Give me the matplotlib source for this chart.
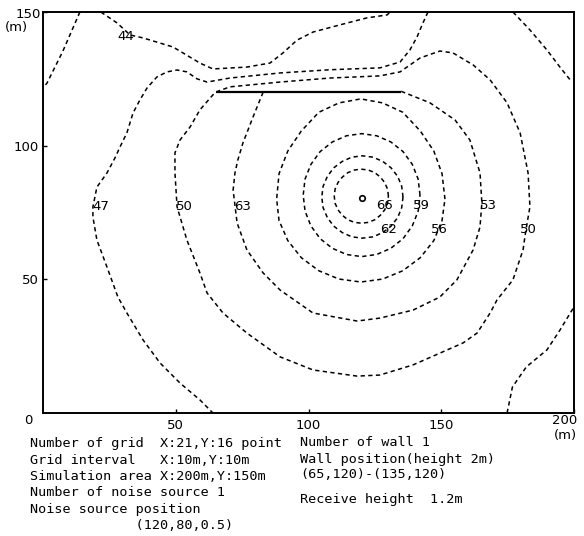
import matplotlib.pyplot as plt

# contour lines, x / y in metres
c44_x = [21.8, 27.9, 32.8, 37.7, 49.0, 59.1, 64.0, 76.8, 85.5, 90.4, 95.7, 101.7, 111.9, 122.0, 129.6, 130.7]
c44_y = [150.0, 145.9, 141.4, 140.3, 136.9, 130.9, 128.7, 129.4, 130.9, 134.7, 139.5, 142.5, 145.2, 147.8, 148.9, 150.0]

c47_x = [145.0, 143.1, 140.9, 138.2, 134.5, 126.9, 108.1, 89.3, 70.4, 61.8, 58.0, 54.2, 50.5, 46.7, 42.9, 39.2,
         36.5, 33.9, 31.6, 29.0, 27.1, 24.1, 20.3, 18.8, 18.8, 20.3, 24.1, 28.2, 31.6, 37.7, 44.1, 51.6, 59.1, 64.0]
c47_y = [150.0, 145.9, 140.7, 135.8, 131.3, 129.1, 128.4, 127.2, 125.3, 123.8, 125.0, 127.6, 128.3, 127.6, 125.7, 121.6,
         117.1, 112.2, 104.8, 99.5, 95.4, 89.8, 84.5, 77.1, 73.3, 64.7, 54.6, 43.4, 37.4, 27.3, 18.7, 11.2, 4.9, 0.0]

c50_x = [65.2, 70.4, 89.3, 108.1, 126.9, 134.5, 142.0, 149.5, 154.4, 162.0, 168.4, 174.8, 179.7, 182.7, 183.4,
         181.9, 180.8, 177.0, 171.0, 168.4, 163.5, 158.2, 149.5, 139.4, 126.9, 118.3, 101.7, 89.3, 76.8, 67.8,
         61.8, 59.1, 54.2, 50.5, 49.7, 49.7, 51.6, 55.4, 59.1, 64.0, 65.2]
c50_y = [120.1, 122.0, 123.8, 125.3, 126.1, 127.6, 132.8, 135.4, 134.7, 130.2, 124.6, 116.0, 104.8, 89.8, 77.1,
         68.5, 61.0, 49.8, 42.3, 37.4, 29.9, 26.2, 22.4, 18.0, 14.2, 13.8, 16.1, 21.0, 29.9, 37.4,
         44.9, 52.4, 64.7, 77.1, 89.8, 97.3, 102.1, 107.0, 113.4, 119.0, 120.1]

c53_x = [82.9, 79.1, 75.3, 73.4, 72.3, 71.6, 73.1, 76.8, 82.9, 89.3, 101.7, 118.3, 126.9, 139.4, 149.5, 155.9,
         162.0, 164.6, 165.3, 164.6, 160.8, 155.2, 145.8, 134.5]
c53_y = [120.0, 110.7, 101.0, 94.7, 89.8, 83.4, 71.1, 61.0, 52.4, 46.0, 37.4, 34.4, 35.5, 38.5, 43.4, 49.8,
         61.0, 69.6, 78.6, 89.8, 102.1, 109.6, 116.0, 120.5]

c56_x = [151.4, 150.3, 147.2, 142.1, 135.5, 127.9, 119.7, 111.5, 103.9, 97.3, 92.2, 88.9,
         88.0, 88.9, 92.2, 97.3, 103.9, 111.5, 119.7, 127.9, 135.5, 142.1, 147.2, 150.3, 151.4]
c56_y = [80.0, 89.5, 98.0, 105.5, 112.5, 116.0, 117.5, 116.0, 112.5, 105.5, 98.0, 89.5,
         80.0, 72.0, 64.5, 58.1, 53.2, 50.1, 49.0, 50.1, 53.2, 58.1, 64.5, 72.0, 80.0]

c59_x = [142.0, 141.3, 139.1, 135.6, 131.0, 125.7, 120.0, 114.3, 109.0, 104.4, 100.9, 98.7,
         98.0, 98.7, 100.9, 104.4, 109.0, 114.3, 120.0, 125.7, 131.0, 135.6, 139.1, 141.3, 142.0]
c59_y = [81.5, 87.5, 93.0, 97.8, 101.4, 103.7, 104.5, 103.7, 101.4, 97.8, 93.0, 87.5,
         81.5, 75.5, 70.0, 65.2, 61.6, 59.3, 58.5, 59.3, 61.6, 65.2, 70.0, 75.5, 81.5]

c62_x = [135.6, 135.1, 133.6, 131.1, 128.0, 124.3, 120.3, 116.3, 112.7, 109.5, 107.1, 105.5,
         105.0, 105.5, 107.1, 109.5, 112.7, 116.3, 120.3, 124.3, 128.0, 131.1, 133.6, 135.1, 135.6]
c62_y = [80.8, 84.8, 88.5, 91.7, 94.1, 95.7, 96.2, 95.7, 94.1, 91.7, 88.5, 84.8,
         80.8, 76.8, 73.1, 69.9, 67.5, 65.9, 65.4, 65.9, 67.5, 69.9, 73.1, 76.8, 80.8]

c66_x = [130.1, 129.8, 128.7, 127.1, 125.0, 122.5, 119.9, 117.3, 114.8, 112.7, 111.1, 110.0,
         109.7, 110.0, 111.1, 112.7, 114.8, 117.3, 119.9, 122.5, 125.0, 127.1, 128.7, 129.8, 130.1]
c66_y = [81.1, 83.7, 86.2, 88.2, 89.9, 90.9, 91.2, 90.9, 89.9, 88.2, 86.2, 83.7,
         81.1, 78.5, 76.0, 74.0, 72.3, 71.3, 71.0, 71.3, 72.3, 74.0, 76.0, 78.5, 81.1]

# unlabelled pieces in the corners
tl_x = [13.9, 7.5, 1.5, 0.0]
tl_y = [150.0, 135.4, 123.4, 121.6]
tr_x = [177.0, 183.4, 189.8, 194.7, 199.2]
tr_y = [150.0, 143.3, 135.8, 129.4, 123.8]
br_x = [174.8, 176.8, 182.0, 189.8, 194.7, 200.0]
br_y = [0.0, 9.7, 17.2, 23.6, 31.0, 39.7]

# contour labels as printed, with where they sit
label_text = ['44', '47', '50', '63', '66', '62', '59', '56', '53', '50']
label_x = [31.3, 21.8, 53.1, 75.0, 128.8, 130.3, 142.7, 149.2, 167.6, 182.7]
label_y = [141.0, 77.1, 77.1, 77.4, 77.8, 68.5, 77.8, 68.8, 77.8, 68.8]

wall_x = [65, 135]
wall_y = [120, 120]
source_x, source_y = 120, 80.5

xticks = [50, 100, 150, 200]
yticks = [50, 100, 150]

info_left = ["Number of grid  X:21,Y:16 point",
             "Grid interval   X:10m,Y:10m",
             "Simulation area X:200m,Y:150m",
             "Number of noise source 1",
             "Noise source position",
             "             (120,80,0.5)"]
info_right = ["Number of wall 1",
              "Wall position(height 2m)",
              "(65,120)-(135,120)"]
info_recv = "Receive height  1.2m"

W, H = 584, 536
fig = plt.figure(figsize=(W / 100, H / 100), dpi=100)
ax = fig.add_axes([43 / W, 1 - 413 / H, (574 - 43) / W, (413 - 12) / H])

dash = dict(color='black', lw=1.1, dashes=(2.8, 2.2))
for xs, ys in [(c44_x, c44_y), (c47_x, c47_y), (c50_x, c50_y), (c53_x, c53_y),
               (c56_x, c56_y), (c59_x, c59_y), (c62_x, c62_y), (c66_x, c66_y),
               (tl_x, tl_y), (tr_x, tr_y), (br_x, br_y)]:
    ax.plot(xs, ys, **dash)

ax.plot(wall_x, wall_y, color='black', lw=1.6, solid_capstyle='butt')
ax.plot([source_x], [source_y], marker='o', ms=4, mfc='white', mec='black', mew=1.2)

for t, x, y in zip(label_text, label_x, label_y):
    ax.text(x, y, t, fontsize=9.5, ha='center', va='center')

ax.set_xlim(0, 200)
ax.set_ylim(0, 150)
for s in ax.spines.values():
    s.set_linewidth(1.4)
ax.tick_params(direction='in', length=3, width=1, labelsize=9.5, pad=4)
ax.set_xticks(xticks)
ax.set_xticklabels([str(v) for v in xticks[:-1]] + [''])
ax.set_yticks(yticks)
ax.set_yticklabels([str(v) for v in yticks[:-1]] + [''])
ax.tick_params(axis='y', pad=3)

fs = 9.5
fig.text(28 / W, 1 - 420 / H, '0', fontsize=fs, ha='center', va='center')
fig.text(28 / W, 1 - 15 / H, str(yticks[-1]), fontsize=fs, ha='center', va='center')
fig.text(16 / W, 1 - 28 / H, '(m)', fontsize=fs, ha='center', va='center')
fig.text(577 / W, 1 - 420 / H, str(xticks[-1]), fontsize=fs, ha='right', va='center')
fig.text(577 / W, 1 - 436 / H, '(m)', fontsize=fs, ha='right', va='center')

mono = dict(family='DejaVu Sans Mono', fontsize=9.7, ha='left', va='center')
for i, t in enumerate(info_left):
    fig.text(30 / W, 1 - (444 + i * 16.3) / H, t, **mono)
for i, t in enumerate(info_right):
    fig.text(300 / W, 1 - (443 + i * 16) / H, t, **mono)
fig.text(300 / W, 1 - 499 / H, info_recv, **mono)

fig.savefig('out.png', dpi=100)
